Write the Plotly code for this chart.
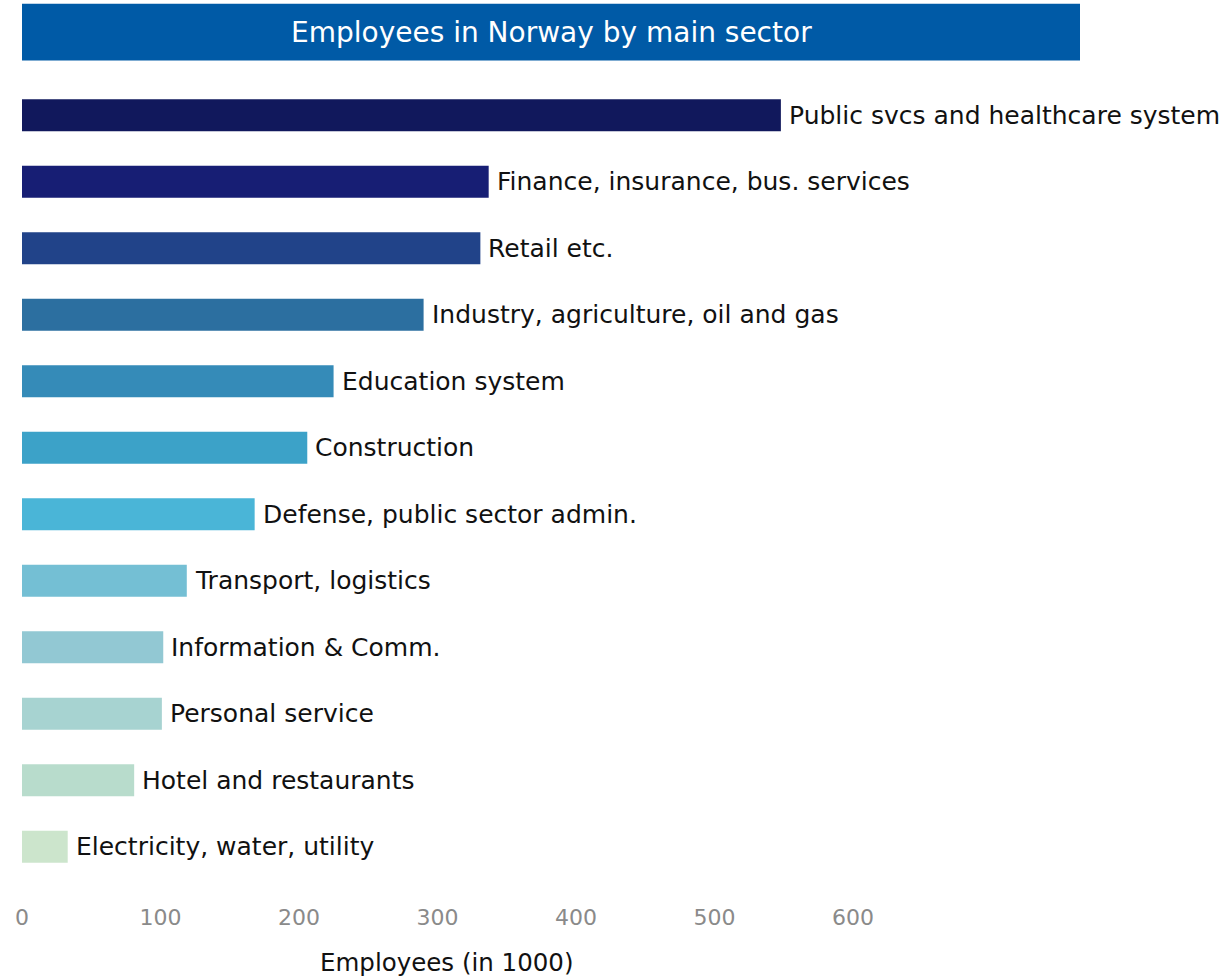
import plotly.graph_objects as go

# Employees per main sector, thousands
sectors = [
    "Public svcs and healthcare system",
    "Finance, insurance, bus. services",
    "Retail etc.",
    "Industry, agriculture, oil and gas",
    "Education system",
    "Construction",
    "Defense, public sector admin.",
    "Transport, logistics",
    "Information & Comm.",
    "Personal service",
    "Hotel and restaurants",
    "Electricity, water, utility",
]
employees = [548, 337, 331, 290, 225, 206, 168, 119, 102, 101, 81, 33]
colors = [
    "#11185c", "#171e74", "#214389", "#2c6fa0", "#358bb8", "#3ca2c8",
    "#4ab5d7", "#74bfd4", "#92c8d3", "#a7d3d1", "#b8dccc", "#cce5cc",
]
tick_vals = [0, 100, 200, 300, 400, 500, 600]

LABEL_FONT = "DejaVu Sans, Verdana, sans-serif"

fig = go.Figure(
    go.Bar(
        x=employees,
        y=sectors,
        orientation="h",
        marker=dict(color=colors, line=dict(width=0)),
        width=0.48,
        hoverinfo="x+y",
    )
)

# sector names to the right of each bar
for name, val in zip(sectors, employees):
    fig.add_annotation(
        x=val, y=name, xref="x", yref="y",
        text=name, showarrow=False, xanchor="left", xshift=6,
        font=dict(family=LABEL_FONT, size=25, color="#111111"),
    )

# title banner spanning the plot area
fig.add_shape(
    type="rect", xref="paper", yref="paper",
    x0=0, x1=1, y0=1.027, y1=1.098,
    fillcolor="#005aa6", line=dict(width=0), layer="below",
)
fig.add_annotation(
    xref="paper", yref="paper", x=0.5, y=1.0625,
    text="Employees in Norway by main sector", showarrow=False,
    xanchor="center", yanchor="middle",
    font=dict(family=LABEL_FONT, size=28, color="white"),
)
fig.add_annotation(
    xref="paper", yref="paper", x=0.4008, y=-0.104,
    text="Employees (in 1000)", showarrow=False,
    xanchor="center", yanchor="middle",
    font=dict(family=LABEL_FONT, size=24.5, color="#111111"),
)

fig.update_layout(
    width=1229, height=976,
    margin=dict(l=22, r=149, t=82, b=96),
    paper_bgcolor="white", plot_bgcolor="white",
    showlegend=False,
    xaxis=dict(
        range=[0, 764], tickvals=tick_vals, showgrid=False, zeroline=False,
        showline=False, ticks="", ticklabelstandoff=22,
        tickfont=dict(family=LABEL_FONT, size=22, color="#8a8a8a"),
    ),
    yaxis=dict(
        autorange="reversed", showticklabels=False, showgrid=False,
        zeroline=False, showline=False, ticks="",
    ),
)

fig.write_html("out.html")
